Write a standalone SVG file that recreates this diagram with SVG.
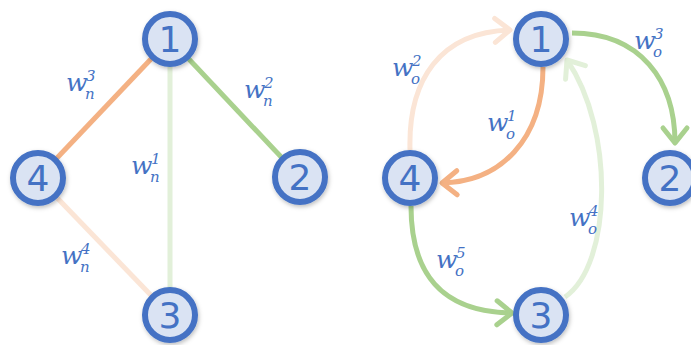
<svg xmlns="http://www.w3.org/2000/svg" width="691" height="345" viewBox="0 0 691 345">
<style>
.node circle{fill:#DAE3F3;stroke:#4472C4;stroke-width:6;filter:url(#sh)}
.node text{font-family:"DejaVu Sans","Liberation Sans",sans-serif;font-size:36px;fill:#4472C4;text-anchor:middle}
.lbl{font-family:"DejaVu Serif","Liberation Serif",serif;font-style:italic;fill:#4472C4;font-size:25px}
.lbl .s{font-size:15px}
.e{fill:none;stroke-width:5}
.or{stroke:#F4B183}.gr{stroke:#A9D18E}.pg{stroke:#E2F0D9}.po{stroke:#FBE5D6}
.ah{fill:none;stroke-width:5;stroke-linecap:round;stroke-linejoin:round}
</style>
<defs>
<filter id="sh" x="-30%" y="-30%" width="160%" height="160%">
<feDropShadow dx="1" dy="2" stdDeviation="2" flood-color="#000" flood-opacity="0.25"/>
</filter>
<marker id="mOr" markerUnits="userSpaceOnUse" markerWidth="40" markerHeight="40" viewBox="-20 -20 40 40" refX="0" refY="0" orient="auto" overflow="visible"><path class="ah" stroke="#F4B183" d="M-15,-12 L0,0 L-15,12"/></marker>
<marker id="mGr" markerUnits="userSpaceOnUse" markerWidth="40" markerHeight="40" viewBox="-20 -20 40 40" refX="0" refY="0" orient="auto" overflow="visible"><path class="ah" stroke="#A9D18E" d="M-15,-12 L0,0 L-15,12"/></marker>
<marker id="mPg" markerUnits="userSpaceOnUse" markerWidth="40" markerHeight="40" viewBox="-20 -20 40 40" refX="0" refY="0" orient="auto" overflow="visible"><path class="ah" stroke="#E2F0D9" d="M-15,-12 L0,0 L-15,12"/></marker>
<marker id="mPo" markerUnits="userSpaceOnUse" markerWidth="40" markerHeight="40" viewBox="-20 -20 40 40" refX="0" refY="0" orient="auto" overflow="visible"><path class="ah" stroke="#FBE5D6" d="M-15,-12 L0,0 L-15,12"/></marker>
</defs>
<g id="connectors">
<line class="e or" x1="170" y1="39" x2="38" y2="178"/>
<line class="e gr" x1="170" y1="39" x2="300" y2="177"/>
<line class="e pg" x1="170" y1="39" x2="170" y2="315"/>
<line class="e po" x1="38" y1="178" x2="170" y2="315"/>
<path class="e po" d="M410,150 C408,80 440,32 510,30" marker-end="url(#mPo)"/>
<path class="e or" d="M543,67 C543,140 500,182 442,183" marker-end="url(#mOr)"/>
<path class="e gr" d="M572,33 C640,33 675,80 675,143" marker-end="url(#mGr)"/>
<path class="e pg" d="M565,297 C612,265 615,130 567,60" marker-end="url(#mPg)"/>
<path class="e gr" d="M411,206 C411,272 440,312 512,313" marker-end="url(#mGr)"/>
</g>
<g id="labels">
<text class="lbl"><tspan x="66" y="91">w</tspan><tspan class="s" x="86" y="81">3</tspan><tspan class="s" x="85" y="99">n</tspan></text>
<text class="lbl"><tspan x="244" y="98">w</tspan><tspan class="s" x="264" y="88">2</tspan><tspan class="s" x="263" y="106">n</tspan></text>
<text class="lbl"><tspan x="131" y="174">w</tspan><tspan class="s" x="151" y="164">1</tspan><tspan class="s" x="150" y="182">n</tspan></text>
<text class="lbl"><tspan x="61" y="264">w</tspan><tspan class="s" x="81" y="254">4</tspan><tspan class="s" x="80" y="272">n</tspan></text>
<text class="lbl"><tspan x="392" y="76">w</tspan><tspan class="s" x="412" y="66">2</tspan><tspan class="s" x="411" y="84">o</tspan></text>
<text class="lbl"><tspan x="634" y="49">w</tspan><tspan class="s" x="654" y="39">3</tspan><tspan class="s" x="653" y="57">o</tspan></text>
<text class="lbl"><tspan x="487" y="131">w</tspan><tspan class="s" x="507" y="121">1</tspan><tspan class="s" x="506" y="139">o</tspan></text>
<text class="lbl"><tspan x="569" y="226">w</tspan><tspan class="s" x="589" y="216">4</tspan><tspan class="s" x="588" y="234">o</tspan></text>
<text class="lbl"><tspan x="436" y="268">w</tspan><tspan class="s" x="456" y="258">5</tspan><tspan class="s" x="455" y="276">o</tspan></text>
</g>
<g id="L1" class="node"><circle cx="170" cy="39" r="25"/><text x="170" y="52">1</text></g>
<g id="L2" class="node"><circle cx="300" cy="177" r="25"/><text x="300" y="190">2</text></g>
<g id="L3" class="node"><circle cx="170" cy="315" r="25"/><text x="170" y="328">3</text></g>
<g id="L4" class="node"><circle cx="38" cy="178" r="25"/><text x="38" y="191">4</text></g>
<g id="R1" class="node"><circle cx="541" cy="39" r="25"/><text x="541" y="52">1</text></g>
<g id="R2" class="node"><circle cx="670" cy="178" r="25"/><text x="670" y="191">2</text></g>
<g id="R3" class="node"><circle cx="541" cy="315" r="25"/><text x="541" y="328">3</text></g>
<g id="R4" class="node"><circle cx="410" cy="178" r="25"/><text x="410" y="191">4</text></g>
</svg>
